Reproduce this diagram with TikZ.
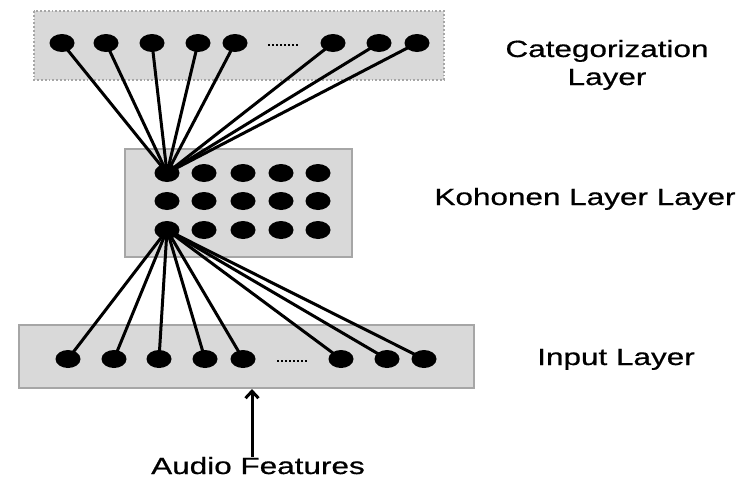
\documentclass[tikz,border=0pt]{standalone}
\usepackage{fontspec}
\setmainfont[FakeBold=0.6,BoldFont={Liberation Sans}]{Liberation Sans}
\usetikzlibrary{arrows.meta,shapes.geometric}
\definecolor{boxfill}{HTML}{D9D9D9}
\definecolor{boxline}{HTML}{A6A6A6}
\tikzset{
  neuron/.style={ellipse, fill=black, minimum width=25pt, minimum height=18pt, inner sep=0pt},
  layerbox/.style={fill=boxfill, draw=boxline, line width=1.8pt},
  link/.style={line width=3pt, black},
  lbl/.style={anchor=base, font=\fontsize{23.5}{27}\selectfont\bfseries, inner sep=0pt}
}
\newcommand{\wide}[1]{\scalebox{1.34}[1]{#1}}
\begin{document}
\begin{tikzpicture}[x=1pt,y=-1pt]
\useasboundingbox (0,0) rectangle (742,485);
% boxes
\draw[layerbox, dotted, line width=2pt] (34,11) rectangle (444,80);
\draw[layerbox] (125,149) rectangle (352,257);
\draw[layerbox] (19,325) rectangle (474,388);
% neuron positions
\foreach \i/\x in {1/62,2/106,3/152,4/198,5/235,6/333,7/379,8/417}
  \coordinate (t\i) at (\x,43);
\foreach \i/\x in {1/68,2/114,3/159,4/205,5/243,6/341,7/387,8/424}
  \coordinate (b\i) at (\x,359);
\foreach \c/\x in {1/167,2/204,3/243,4/281,5/318}
  \foreach \r/\y in {1/173,2/201,3/230}
    \coordinate (k\r\c) at (\x,\y);
% links
\foreach \i in {1,...,8} \draw[link] (t\i) -- (k11);
\foreach \i in {1,...,8} \draw[link] (k31) -- (b\i);
% neurons
\foreach \i in {1,...,8} \node[neuron] (nt\i) at (t\i) {};
\foreach \i in {1,...,8} \node[neuron] (nb\i) at (b\i) {};
\foreach \c in {1,...,5}
  \foreach \r in {1,2,3}
    \node[neuron] (nk\r\c) at (k\r\c) {};
% dots
\draw[line width=1.6pt, dash pattern=on 2pt off 2pt] (268,45) -- (298,45);
\draw[line width=1.6pt, dash pattern=on 2pt off 2pt] (277,361) -- (307,361);
% labels
\node[lbl] (lc1) at (607,57) {\wide{Categorization}};
\node[lbl] (lc2) at (607,85) {\wide{Layer}};
\node[lbl] (lk) at (585,205) {\wide{Kohonen Layer Layer}};
\node[lbl] (li) at (616,365) {\wide{Input Layer}};
\node[lbl] (la) at (258,474) {\wide{Audio Features}};
\coordinate (atip) at (252,389);
\coordinate (abase) at (252,457);
\draw[line width=3pt, -{Straight Barb[length=7pt,width=13pt,line width=3pt]}] (abase) -- (atip);
\end{tikzpicture}
\end{document}
